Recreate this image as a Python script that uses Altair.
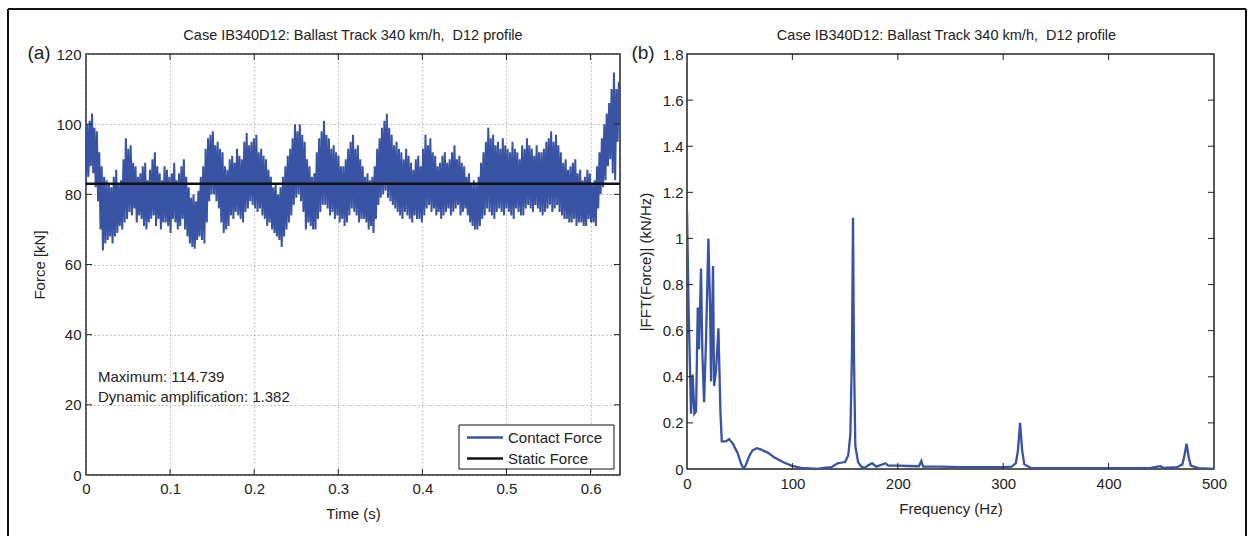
import altair as alt
import numpy as np
import pandas as pd

BLUE = "#3953a4"
FONT = "Liberation Sans"
TXT = "#222222"
TITLE = "Case IB340D12: Ballast Track 340 km/h,\u00a0 D12 profile"

# ---------------- data: panel (a) contact force (peaks / troughs)
t_end = 0.635
static_force = 83.02
force_start = 83.0
force_end = 100.0
force_peaks = [
    100, 103, 98, 88, 84, 82, 87, 84, 96, 94,
    88, 86, 89, 87, 92, 86, 88, 85, 89, 86,
    90, 82, 80, 81, 88, 96, 98, 95, 92, 87,
    91, 93, 90, 97.5, 95, 97, 93, 90, 85, 83,
    82, 88, 93, 100, 100, 95, 88, 86, 96, 101,
    96, 94, 91, 88, 93, 97, 94, 88, 86, 85,
    93, 99, 103, 97, 95, 92, 93, 89, 90, 88,
    97, 96, 91, 89, 92, 90, 94, 91, 88, 86,
    84, 85, 92, 99, 97, 95, 96, 93, 95, 92,
    94, 96, 93, 94, 92, 95, 98, 97, 92, 90,
    88, 90, 87, 85, 86, 84, 92, 100, 106, 114.7,
    112,
]
force_troughs = [
    85, 86, 78, 64, 67, 66, 69, 70, 73, 74,
    72, 73, 70, 73, 71, 70, 72, 69, 72, 71,
    70, 66, 64.5, 68, 66, 78, 80, 76, 69, 71,
    73, 74, 72, 76, 77, 75, 74, 71, 70, 68,
    65, 70, 74, 79, 78, 70, 71, 70, 75, 77,
    74, 73, 72, 71, 74, 75, 72, 73, 70, 69,
    77, 80, 79, 77, 75, 73, 74, 72, 73, 72,
    76, 75, 74, 73, 75, 74, 76, 74, 76, 72,
    70, 71, 74, 75, 73, 76, 74, 75, 73, 75,
    74, 77, 75, 76, 74, 76, 75, 77, 74, 73,
    72, 71, 72, 71, 72, 71, 80, 84, 90, 84,
]
force_peaks_mid = [
    101, 99, 92, 85, 83, 85, 83, 90, 93, 89,
    85, 88, 84, 90, 88, 84, 87, 86, 84, 88,
    85, 79, 78, 85, 93, 97, 94, 93, 88, 90,
    89, 91, 95, 94, 96, 92, 91, 87, 82, 80,
    85, 91, 96, 98, 97, 90, 85, 92, 98, 97,
    93, 92, 88, 90, 95, 93, 90, 85, 84, 88,
    96, 101, 99, 94, 93, 90, 91, 87, 91, 93,
    94, 92, 88, 91, 89, 92, 90, 89, 85, 83,
    83, 89, 95, 96, 94, 93, 94, 92, 93, 90,
    93, 94, 91, 92, 93, 96, 95, 94, 89, 87,
    89, 86, 84, 87, 83, 88, 96, 103, 110, 110,
]
force_troughs_mid = [
    88, 82, 70, 66, 68, 68, 71, 72, 75, 76,
    74, 71, 72, 74, 73, 72, 71, 73, 70, 73,
    68, 65, 67, 67, 72, 80, 78, 72, 70, 74,
    75, 73, 75, 78, 76, 76, 73, 72, 69, 67,
    68, 72, 77, 80, 75, 72, 70, 73, 77, 76,
    75, 74, 73, 72, 76, 74, 73, 72, 71, 73,
    79, 81, 78, 76, 74, 75, 73, 74, 73, 74,
    77, 76, 75, 74, 76, 75, 77, 75, 74, 71,
    70, 73, 76, 74, 75, 75, 76, 74, 76, 74,
    76, 76, 77, 75, 75, 77, 76, 75, 73, 72,
    73, 72, 71, 73, 72, 76, 82, 88, 86, 95,
]

# ---------------- data: panel (b) spectrum
fft_freq = [
    0, 1.5, 3.8, 5.4, 7.0, 8.6, 10.2, 11.4, 12.4, 13.3,
    14.6, 16.2, 18.0, 20.3, 21.9, 22.8, 24.7, 25.7, 27.6, 29.8,
    31.7, 33.0, 37.0, 40.0, 43.5, 48.0, 51.5, 54.0, 56.0, 59.0,
    62.0, 66.0, 70.0, 77.0, 83.0, 91.0, 99.0, 108.0, 124.0, 130.0,
    137.0, 143.0, 150.0, 153.0, 155.0, 156.5, 157.5, 158.4, 159.7, 162.3,
    165.4, 168.6, 171.8, 175.6, 179.7, 188.3, 190.8, 200.0, 210.0, 220.0,
    222.3, 224.0, 240.0, 260.0, 280.0, 300.0, 308.0, 312.0, 314.0, 316.0,
    318.0, 320.0, 326.0, 350.0, 400.0, 440.0, 449.0, 452.0, 465.0, 470.0,
    472.0, 474.0, 476.0, 478.0, 485.0, 500.0,
]
fft_amp = [
    1.12, 0.70, 0.24, 0.41, 0.24, 0.25, 0.70, 0.52, 0.70, 0.87,
    0.50, 0.29, 0.55, 1.00, 0.70, 0.38, 0.88, 0.36, 0.43, 0.61,
    0.25, 0.12, 0.12, 0.13, 0.11, 0.07, 0.02, 0.00, 0.02, 0.055,
    0.08, 0.09, 0.085, 0.07, 0.05, 0.03, 0.015, 0.005, 0.0, 0.005,
    0.008, 0.025, 0.03, 0.06, 0.15, 0.50, 1.09, 0.50, 0.10, 0.03,
    0.01, 0.005, 0.015, 0.025, 0.01, 0.025, 0.015, 0.015, 0.013, 0.012,
    0.035, 0.01, 0.01, 0.008, 0.008, 0.008, 0.01, 0.025, 0.08, 0.20,
    0.08, 0.02, 0.005, 0.004, 0.004, 0.005, 0.012, 0.005, 0.008, 0.02,
    0.06, 0.11, 0.05, 0.015, 0.004, 0.0,
]

time_ticks = [0, 0.1, 0.2, 0.3, 0.4, 0.5, 0.6]
force_ticks = [0, 20, 40, 60, 80, 100, 120]
freq_ticks = [0, 100, 200, 300, 400, 500]
amp_ticks = [0, 0.2, 0.4, 0.6, 0.8, 1.0, 1.2, 1.4, 1.6, 1.8]
annotations = ["Maximum: 114.739", "Dynamic amplification: 1.382"]
series_names = ["Contact Force", "Static Force"]

# ---------------- build tables
vals = [force_start]
for i in range(len(force_troughs)):
    vals += [force_peaks[i], force_troughs[i], force_peaks_mid[i], force_troughs_mid[i]]
vals.append(force_peaks[-1])
vals.append(force_end)
contact = pd.DataFrame({"t": np.linspace(0, t_end, len(vals)), "force": vals})
static = pd.DataFrame({"t": [0, t_end], "force": [static_force] * 2})
spec = pd.DataFrame({"f": fft_freq, "amp": fft_amp})

WA, HA = 534, 421
WB, HB = 527, 415

one = pd.DataFrame({"k": [0]})

xa_scale = alt.Scale(domain=[0, t_end], nice=False, zero=False)
ya_scale = alt.Scale(domain=[0, 120], nice=False)
xb_scale = alt.Scale(domain=[0, 500], nice=False)
yb_scale = alt.Scale(domain=[0, 1.8], nice=False)

xa_axis = alt.Axis(values=time_ticks, format="~r", title="Time (s)", grid=True,
                   gridDash=[1, 3], gridColor="#888888", labelPadding=6, titlePadding=10)
ya_axis = alt.Axis(values=force_ticks, format="~r", title="Force [kN]", grid=True,
                   gridDash=[1, 3], gridColor="#888888", labelPadding=5, titlePadding=8)
xa = alt.X("t:Q", scale=xa_scale, axis=xa_axis)
ya = alt.Y("force:Q", scale=ya_scale, axis=ya_axis)

line_a = alt.Chart(contact).mark_line(strokeWidth=2, color=BLUE, clip=True).encode(x=xa, y=ya)
stat_a = alt.Chart(static).mark_line(strokeWidth=2.6, color="#111111").encode(x=xa, y=ya)

tick_t = pd.DataFrame({"t": time_ticks[1:]})
tick_f = pd.DataFrame({"force": force_ticks[1:-1]})
tk = dict(color="#222222", strokeWidth=1)
ticks_a = [
    alt.Chart(tick_t).mark_rule(**tk).encode(x=xa, y=alt.value(HA), y2=alt.value(HA - 6)),
    alt.Chart(tick_t).mark_rule(**tk).encode(x=xa, y=alt.value(0), y2=alt.value(6)),
    alt.Chart(tick_f).mark_rule(**tk).encode(y=ya, x=alt.value(0), x2=alt.value(6)),
    alt.Chart(tick_f).mark_rule(**tk).encode(y=ya, x=alt.value(WA - 6), x2=alt.value(WA)),
]

def label(text, x, y, size=15, align="left"):
    return alt.Chart(pd.DataFrame({"label": [text]})).mark_text(
        align=align, baseline="middle", font=FONT, fontSize=size, color=TXT
    ).encode(text="label:N", x=alt.value(x), y=alt.value(y))

ann_a = [
    label(annotations[0], 12, 323),
    label(annotations[1], 12, 343),
    label("(a)", -47, -1, size=19, align="center"),
    label(TITLE, WA / 2, -18, size=14.5, align="center"),
]

# legend drawn as marks (box, two line samples, two labels)
LX0, LX1, LY0, LY1 = 373, 528, 371, 415
legend_a = [
    alt.Chart(one).mark_rect(fill="white", stroke="#111111", strokeWidth=1).encode(
        x=alt.value(LX0), x2=alt.value(LX1), y=alt.value(LY0), y2=alt.value(LY1)),
    alt.Chart(one).mark_rule(color=BLUE, strokeWidth=2.5).encode(
        x=alt.value(381), x2=alt.value(417), y=alt.value(383.5)),
    alt.Chart(one).mark_rule(color="#111111", strokeWidth=2.5).encode(
        x=alt.value(381), x2=alt.value(417), y=alt.value(404.5)),
    label(series_names[0], 422, 383.5),
    label(series_names[1], 422, 404.5),
]

fr = dict(color="#111111", strokeWidth=2)
frame_a = [
    alt.Chart(one).mark_rule(**fr).encode(x=alt.value(-78), y=alt.value(-45), y2=alt.value(482)),
    alt.Chart(one).mark_rule(**fr).encode(x=alt.value(-78), x2=alt.value(WA), y=alt.value(-45)),
]

panel_a = alt.layer(*frame_a, line_a, stat_a, *ticks_a, *ann_a, *legend_a).properties(
    width=WA, height=HA)

# ---------------- panel (b)
xb = alt.X("f:Q", scale=xb_scale, axis=alt.Axis(
    values=freq_ticks, format="~r", title="Frequency (Hz)", grid=False,
    labelPadding=7, titlePadding=10))
yb = alt.Y("amp:Q", scale=yb_scale, axis=alt.Axis(
    values=amp_ticks, format="~r", title="|FFT(Force)| (kN/Hz)", grid=False,
    labelPadding=4, titlePadding=9))
line_b = alt.Chart(spec).mark_line(strokeWidth=2.3, color=BLUE, clip=True).encode(x=xb, y=yb)

tick_fq = pd.DataFrame({"f": freq_ticks[1:-1]})
tick_am = pd.DataFrame({"amp": amp_ticks[1:-1]})
ticks_b = [
    alt.Chart(tick_fq).mark_rule(**tk).encode(x=xb, y=alt.value(HB), y2=alt.value(HB - 6)),
    alt.Chart(tick_fq).mark_rule(**tk).encode(x=xb, y=alt.value(0), y2=alt.value(6)),
    alt.Chart(tick_am).mark_rule(**tk).encode(y=yb, x=alt.value(0), x2=alt.value(6)),
    alt.Chart(tick_am).mark_rule(**tk).encode(y=yb, x=alt.value(WB - 6), x2=alt.value(WB)),
]
lab_b = [
    label("(b)", -44, -1, size=19, align="center"),
    label(TITLE, WB / 2 - 4, -18, size=14.5, align="center"),
]
frame_b = [
    alt.Chart(one).mark_rule(**fr).encode(x=alt.value(559), y=alt.value(-45), y2=alt.value(482)),
    alt.Chart(one).mark_rule(**fr).encode(x=alt.value(-67), x2=alt.value(559), y=alt.value(-45)),
]

panel_b = alt.layer(*frame_b, line_b, *ticks_b, *lab_b).properties(width=WB, height=HB)

chart = alt.hconcat(panel_a, panel_b, spacing=-8).properties(
    padding={"left": 6, "top": 7, "right": 0, "bottom": 0},
    background="white",
).configure_view(
    stroke="#222222", strokeWidth=1.5
).configure_axis(
    labelFont=FONT, labelFontSize=15, labelColor=TXT, labelFlush=False,
    titleFont=FONT, titleFontSize=15, titleFontWeight="normal", titleColor=TXT,
    domain=False, ticks=False,
)

chart.save("out.html", embed_options={"renderer": "svg", "actions": False})
